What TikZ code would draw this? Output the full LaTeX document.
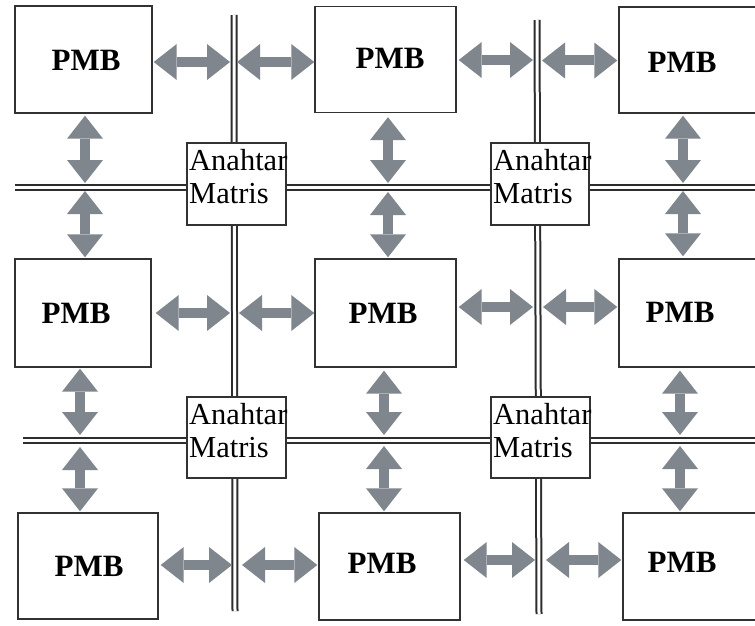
\documentclass[tikz,border=0pt]{standalone}
\usepackage{fontspec}
\setmainfont{Liberation Serif}
\usetikzlibrary{arrows.meta,calc}

\definecolor{busgray}{RGB}{45,45,45}
\definecolor{boxgray}{RGB}{50,50,50}
\definecolor{arrowgray}{RGB}{128,134,141}

\tikzset{
  pmbbox/.style={draw=boxgray, line width=1.4pt, fill=white, rectangle, inner sep=0pt},
  pmbtext/.style={font=\bfseries\fontsize{31}{31}\selectfont, inner sep=0pt},
  switchbox/.style={draw=boxgray, line width=1.3pt, fill=white, rectangle, inner sep=0pt},
  switchtext/.style={font=\fontsize{30.5}{33}\selectfont, align=left, inner sep=0pt, anchor=north west},
  bus/.style={draw=busgray, line width=2pt, double=white, double distance=3pt},
  bi/.style={draw=arrowgray, line width=10pt,
    {Triangle[length=23pt,width=36pt,line width=0pt]}-{Triangle[length=23pt,width=36pt,line width=0pt]}}
}

\begin{document}
\begin{tikzpicture}[x=1pt,y=-1pt]
  \useasboundingbox (0,0) rectangle (755,626);
  \clip (0,0) rectangle (755,626);
  \fill[white] (0,0) rectangle (755,626);

  % bus lines
  \coordinate (v1) at (234,0);
  \coordinate (v2) at (537,0);
  \coordinate (h1) at (0,187);
  \coordinate (h2) at (0,440);
  \draw[bus] (234,15) -- (235,611);
  \draw[bus] (537,20) -- (539,614);
  \draw[bus] (15,187) -- (760,187);
  \draw[bus] (23,440) -- (760,440);

  % matrix switches
  \node[switchbox, minimum width=99pt, minimum height=82pt] (s1) at (236.5,184) {};
  \node[switchbox, minimum width=98pt, minimum height=82pt] (s2) at (540,184) {};
  \node[switchbox, minimum width=99pt, minimum height=81pt] (s3) at (236.5,437.5) {};
  \node[switchbox, minimum width=99pt, minimum height=81pt] (s4) at (540.5,437.5) {};
  \node[switchtext] at (189,149) {Anahtar\\Matris};
  \node[switchtext] at (493,149) {Anahtar\\Matris};
  \node[switchtext] at (189,403) {Anahtar\\Matris};
  \node[switchtext] at (493,403) {Anahtar\\Matris};

  % processing blocks
  \node[pmbbox, minimum width=137pt, minimum height=107pt] (p11) at (83.5,59.5) {};
  \node[pmbbox, minimum width=141pt, minimum height=106pt] (p12) at (385.5,59.5) {};
  \node[pmbbox, minimum width=141pt, minimum height=106pt] (p13) at (689.5,60) {};
  \node[pmbbox, minimum width=136pt, minimum height=108pt] (p21) at (83,313) {};
  \node[pmbbox, minimum width=141pt, minimum height=108pt] (p22) at (385.5,313) {};
  \node[pmbbox, minimum width=141pt, minimum height=108pt] (p23) at (689.5,313) {};
  \node[pmbbox, minimum width=140pt, minimum height=106pt] (p31) at (88,566) {};
  \node[pmbbox, minimum width=141pt, minimum height=107pt] (p32) at (389.5,566.5) {};
  \node[pmbbox, minimum width=141pt, minimum height=107pt] (p33) at (693.5,566.5) {};

  \node[pmbtext] at (86,60) {PMB};
  \node[pmbtext] at (390,58) {PMB};
  \node[pmbtext] at (682,62) {PMB};
  \node[pmbtext] at (76,313) {PMB};
  \node[pmbtext] at (383,313) {PMB};
  \node[pmbtext] at (680,312) {PMB};
  \node[pmbtext] at (89,566) {PMB};
  \node[pmbtext] at (382,563) {PMB};
  \node[pmbtext] at (682,562) {PMB};

  % horizontal links, row 1
  \draw[bi] ($(p11.east)+(1,2.5)$) -- ($(p11.east -| v1)+(-4,2.5)$);
  \draw[bi] ($(p12.west)+(0,2.5)$) -- ($(p12.west -| v1)+(3,2.5)$);
  \draw[bi] ($(p12.east)+(2,0.5)$) -- ($(p12.east -| v2)+(-4,0.5)$);
  \draw[bi] ($(p13.west)+(-1,0.5)$) -- ($(p13.west -| v2)+(5,0.5)$);
  % horizontal links, row 2
  \draw[bi] ($(p21.east)+(4,0)$) -- ($(p21.east -| v1)+(-4,0)$);
  \draw[bi] ($(p22.west)+(0,0)$) -- ($(p22.west -| v1)+(5,0)$);
  \draw[bi] ($(p22.east)+(2,-6)$) -- ($(p22.east -| v2)+(-4,-6)$);
  \draw[bi] ($(p23.west)+(-1,-6)$) -- ($(p23.west -| v2)+(6,-6)$);
  % horizontal links, row 3
  \draw[bi] ($(p31.east)+(2,-1)$) -- ($(p31.east -| v1)+(-2,-1)$);
  \draw[bi] ($(p32.west)+(-1,-1.5)$) -- ($(p32.west -| v1)+(8,-1.5)$);
  \draw[bi] ($(p32.east)+(3,-6.5)$) -- ($(p32.east -| v2)+(-2,-6.5)$);
  \draw[bi] ($(p33.west)+(-1,-6.5)$) -- ($(p33.west -| v2)+(9,-6.5)$);

  % vertical links to the upper horizontal bus
  \draw[bi] ($(p11.south)+(1.5,2)$) -- ($(p11.south |- h1)+(1.5,-4)$);
  \draw[bi] ($(p21.north)+(2,-1)$) -- ($(p21.north |- h1)+(2,4)$);
  \draw[bi] ($(p12.south)+(2.5,4)$) -- ($(p12.south |- h1)+(2.5,-4)$);
  \draw[bi] ($(p22.north)+(2.5,-1)$) -- ($(p22.north |- h1)+(2.5,5)$);
  \draw[bi] ($(p13.south)+(-6.5,2)$) -- ($(p13.south |- h1)+(-6.5,-4)$);
  \draw[bi] ($(p23.north)+(-6.5,-2)$) -- ($(p23.north |- h1)+(-6.5,4)$);
  % vertical links to the lower horizontal bus
  \draw[bi] ($(p21.south)+(-3,1)$) -- ($(p21.south |- h2)+(-3,-5)$);
  \draw[bi] ($(p31.north)+(-8,-1)$) -- ($(p31.north |- h2)+(-8,7)$);
  \draw[bi] ($(p22.south)+(-1.5,3)$) -- ($(p22.south |- h2)+(-1.5,-5)$);
  \draw[bi] ($(p32.north)+(-5.5,-1)$) -- ($(p32.north |- h2)+(-5.5,6)$);
  \draw[bi] ($(p23.south)+(-9.5,3)$) -- ($(p23.south |- h2)+(-9.5,-5)$);
  \draw[bi] ($(p33.north)+(-13.5,-1)$) -- ($(p33.north |- h2)+(-13.5,6)$);
\end{tikzpicture}
\end{document}
